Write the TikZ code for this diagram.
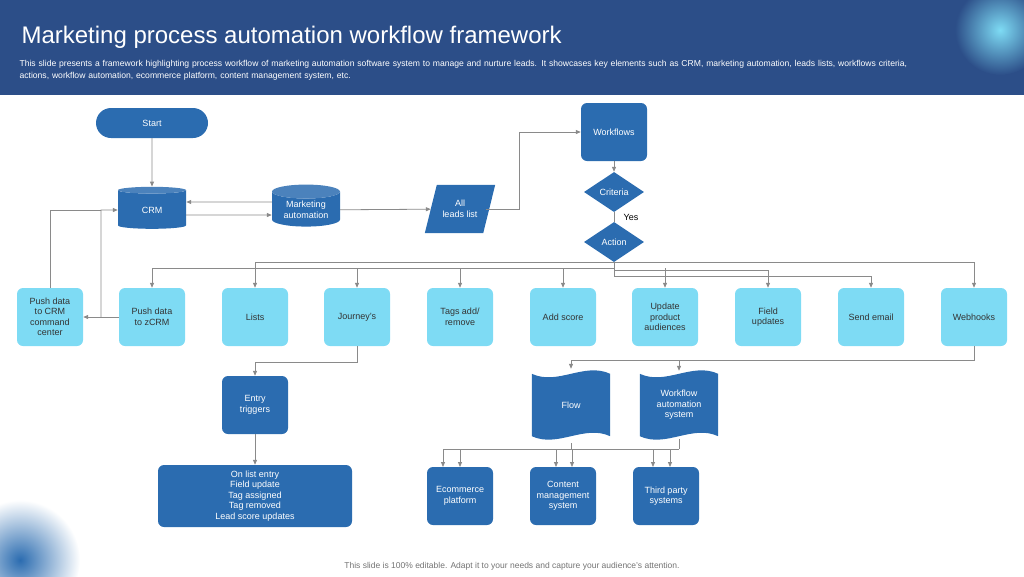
\documentclass[tikz,border=0pt]{standalone}
\usepackage{fontspec}
\setmainfont{Liberation Sans}
\usetikzlibrary{shapes.geometric, arrows.meta, calc}
\definecolor{dk}{HTML}{2B6CB0}
\definecolor{lt}{HTML}{7EDBF4}
\definecolor{hd}{HTML}{2C4E88}
\definecolor{ln}{HTML}{8A8A8A}
\tikzset{
    every node/.style={font=\fontsize{9}{10.5}\selectfont, align=center},
    dkbox/.style={fill=dk, text=white, rounded corners=6pt, minimum width=66pt,
        minimum height=58pt, inner sep=1pt},
    ltbox/.style={fill=lt, text=black!80, rounded corners=6pt, minimum width=66pt,
        minimum height=58pt, inner sep=1pt},
    db/.style={cylinder, shape border rotate=90, aspect=0.3, cylinder uses custom fill,
        cylinder body fill=dk, cylinder end fill=dk!85!white, text=white,
        minimum width=68pt, minimum height=42pt, inner sep=1pt},
    dia/.style={diamond, fill=dk, text=white, minimum width=60pt, minimum height=40pt,
        inner sep=0pt},
    tape/.style={minimum width=78pt, minimum height=62pt, text=white, inner sep=1pt},
    link/.style={draw=ln, line width=0.8pt, -{Triangle[length=5pt, width=4pt]}},
    bus/.style={draw=ln, line width=0.8pt},
}
\begin{document}
\begin{tikzpicture}[x=1pt, y=-1pt]
    \useasboundingbox (0,0) rectangle (1024,576);
    % header
    \fill[hd] (0,0) rectangle (1024,95);
    \shade[inner color=lt, outer color=hd] (1000,30) circle (45);
    \shade[inner color=dk, outer color=white] (20,560) circle (60);
    \node[anchor=west, text=white, font=\fontsize{24}{28}\selectfont] (title) at (18,37)
        {Marketing process automation workflow framework};
    \node[anchor=north west, text=white, align=left, text width=1004pt,
        font=\fontsize{8.6}{11.5}\selectfont] (sub) at (16,57)
        {This slide presents a framework  highlighting process workflow of marketing automation software system to manage and nurture leads. It showcases key elements such as CRM, marketing automation, leads lists, workflows criteria,\\actions, workflow automation, ecommerce platform, content management system, etc.};
    \node[text=black!55, font=\fontsize{8.5}{10}\selectfont] (foot) at (512,566)
        {This slide is 100\% editable. Adapt it to your needs and capture your audience’s attention.};

    % top row
    \node[fill=dk, text=white, rounded corners=15pt, minimum width=112pt,
        minimum height=30pt] (start) at (152,123) {Start};
    \node[db] (crm) at (152,210) {CRM};
    \node[db] (mkt) at (306,210) {Marketing\\automation};
    \node[minimum width=58pt, minimum height=48pt, inner sep=1pt] (leads) at (460,209) {};
    \fill[dk] ([xshift=6pt]leads.north west) -- ([xshift=6pt]leads.north east)
        -- ([xshift=-6pt]leads.south east) -- ([xshift=-6pt]leads.south west) -- cycle;
    \node[text=white] at (leads) {All\\leads list};
    \node[dkbox] (wf) at (614,132) {Workflows};
    \node[dia] (crit) at (614,192) {Criteria};
    \node[dia] (act) at (614,242) {Action};
    \node (yes) at (631,217) {Yes};

    % action row
    \node[ltbox] (pcrm) at (50,317) {Push data\\to CRM\\command\\center};
    \node[ltbox] (pz) at (152,317) {Push data\\to zCRM};
    \node[ltbox] (lists) at (255,317) {Lists};
    \node[ltbox] (jour) at (357,317) {Journey's};
    \node[ltbox] (tags) at (460,317) {Tags add/\\remove};
    \node[ltbox] (score) at (563,317) {Add score};
    \node[ltbox] (upd) at (665,317) {Update\\product\\audiences};
    \node[ltbox] (field) at (768,317) {Field\\updates};
    \node[ltbox] (mail) at (871,317) {Send email};
    \node[ltbox] (hook) at (974,317) {Webhooks};

    % lower part
    \node[dkbox] (entry) at (255,405) {Entry\\triggers};
    \node[dkbox, minimum width=194pt, minimum height=62pt] (trig) at (255,496)
        {On list entry\\Field update\\Tag assigned\\Tag removed\\Lead score updates};
    \node[tape] (flow) at (571,405) {};
    \node[tape] (was) at (679,405) {};
    \foreach \t in {flow, was} {
        \fill[dk] (\t.north west) .. controls +(26,12) and +(-26,-12) .. (\t.north east)
            -- (\t.south east) .. controls +(-26,-12) and +(26,12) .. (\t.south west) -- cycle;
    }
    \node[text=white] at (flow) {Flow};
    \node[text=white] at (was) {Workflow\\automation\\system};
    \node[dkbox] (ecom) at (460,496) {Ecommerce\\platform};
    \node[dkbox] (cms) at (563,496) {Content\\management\\system};
    \node[dkbox] (third) at (666,496) {Third party\\systems};

    % connectors
    \draw[link] (start) -- (crm);
    \draw[link] ([yshift=-5pt]crm.east) -- ([yshift=-5pt]mkt.west);
    \draw[link] ([yshift=8pt]mkt.west) -- ([yshift=8pt]crm.east);
    \draw[link] (mkt) -- (leads);
    \draw[link] ([xshift=-3pt]leads.east) -- ++(33,0) |- (wf.west);
    \draw[link] (wf) -- (crit);
    \draw[bus] (crit) -- (act);
    \draw[bus] (act.south) -- (614,276) -- (871,276);
    \draw[bus] (614,262) -- (255,262);
    \draw[bus] (614,268) -- (152,268);
    \draw[bus] (614,262) -- (974,262);
    \draw[bus] (614,270) -- (768,270);
    \foreach \b in {lists, hook} \draw[link] (\b.north |- 0,262) -- (\b.north);
    \foreach \b in {pz, jour, tags, score, upd} \draw[link] (\b.north |- 0,268) -- (\b.north);
    \draw[link] (field.north |- 0,270) -- (field.north);
    \draw[link] (mail.north |- 0,276) -- (mail.north);
    \draw[link] (pz.west) -- (pcrm.east);
    \draw[link] (101,317) -- (101,210) -- (crm.west);
    \draw[bus] (pcrm.north) -- (50,210) -- (101,210);
    \draw[link] (jour.south) -- ++(0,16) -| (entry.north);
    \draw[link] (entry) -- (trig);
    \draw[link] (hook.south) -- ++(0,14) -| ([yshift=5pt]flow.north);
    \draw[link] (was.north |- 0,360) -- ([yshift=3pt]was.north);
    \draw[bus] ([yshift=-7pt]flow.south) -- (571,449);
    \draw[bus] ([yshift=-3pt]was.south) -- (679,449);
    \draw[bus] (443,449) -- (679,449);
    \foreach \x in {443,460,556,572,653,670} \draw[link] (\x,449) -- (\x,467);
\end{tikzpicture}
\end{document}
